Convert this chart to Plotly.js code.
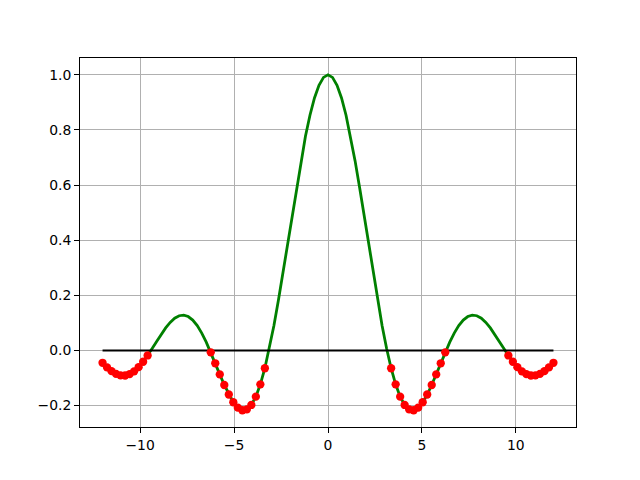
<!DOCTYPE html>
<html>
<head>
<meta charset="utf-8">
<script src="https://cdn.plot.ly/plotly-3.0.1.min.js"></script>
<style>html,body{margin:0;padding:0;background:#fff;}</style>
</head>
<body>
<div id="chart" style="width:640px;height:480px;"></div>
<script>
// Sample positions (non-negative half; the curve is symmetric about x = 0)
const xHalf = [0, 0.24, 0.48, 0.72, 0.96, 1.2, 1.44, 1.68, 1.92, 2.16, 2.4, 2.64, 2.88, 3.12, 3.36, 3.6, 3.84, 4.08, 4.32, 4.56, 4.8, 5.04, 5.28, 5.52, 5.76, 6.0, 6.24, 6.48, 6.72, 6.96, 7.2, 7.44, 7.68, 7.92, 8.16, 8.4, 8.64, 8.88, 9.12, 9.36, 9.6, 9.84, 10.08, 10.32, 10.56, 10.8, 11.04, 11.28, 11.52, 11.76, 12.0];
// Curve values read for each position above
const yHalf = [1.0, 0.99043, 0.96204, 0.91581, 0.85332, 0.7767, 0.68851, 0.59169, 0.4894, 0.3849, 0.28144, 0.18213, 0.0898, 0.00692, -0.06449, -0.12292, -0.16745, -0.1977, -0.21389, -0.21676, -0.20753, -0.18786, -0.15969, -0.12522, -0.08674, -0.04657, -0.00692, 0.03018, 0.06295, 0.08999, 0.11023, 0.12306, 0.12824, 0.12599, 0.11686, 0.10174, 0.08179, 0.05836, 0.0329, 0.00692, -0.01816, -0.041, -0.06045, -0.07562, -0.08586, -0.09083, -0.09049, -0.08509, -0.07514, -0.06138, -0.04471];
const baseX = [-12, 12];
const baseY = [0, 0];
const xTicks = [-10, -5, 0, 5, 10];
const yTicks = [-0.2, 0.0, 0.2, 0.4, 0.6, 0.8, 1.0];

// Build full symmetric series
const xs = [], ys = [];
for (let i = xHalf.length - 1; i >= 1; i--) { xs.push(-xHalf[i]); ys.push(yHalf[i]); }
for (let i = 0; i < xHalf.length; i++) { xs.push(xHalf[i]); ys.push(yHalf[i]); }
const negX = [], negY = [];
for (let i = 0; i < xs.length; i++) { if (ys[i] < 0) { negX.push(xs[i]); negY.push(ys[i]); } }

const fontFam = 'DejaVu Sans, sans-serif';
const traces = [
  {x: xs, y: ys, type: 'scatter', mode: 'lines', line: {color: '#008000', width: 2.8}, hoverinfo: 'none'},
  {x: baseX, y: baseY, type: 'scatter', mode: 'lines', line: {color: '#000000', width: 2.1}, hoverinfo: 'none'},
  {x: negX, y: negY, type: 'scatter', mode: 'markers', marker: {color: '#ff0000', size: 8.3, line: {width: 0}}, hoverinfo: 'none'}
];
const axisCommon = {
  showgrid: true, gridcolor: '#b0b0b0', gridwidth: 1,
  zeroline: false, showline: true, linecolor: '#000', linewidth: 1, mirror: true,
  ticks: 'outside', ticklen: 4.9, tickwidth: 1, tickcolor: '#000',
  tickfont: {family: fontFam, size: 13.9, color: '#000'}
};
const layout = {
  width: 640, height: 480,
  margin: {l: 80, r: 64, t: 58, b: 53, pad: 0},
  paper_bgcolor: '#fff', plot_bgcolor: '#fff',
  showlegend: false,
  xaxis: Object.assign({}, axisCommon, {range: [-13.2, 13.2], tickvals: xTicks, ticktext: xTicks.map(v => v < 0 ? '\u2212' + Math.abs(v) : String(v))}),
  yaxis: Object.assign({}, axisCommon, {range: [-0.2776, 1.0608], tickvals: yTicks, ticktext: yTicks.map(v => v < 0 ? '\u2212' + Math.abs(v).toFixed(1) : v.toFixed(1))})
};
Plotly.newPlot('chart', traces, layout, {staticPlot: true, displayModeBar: false});
</script>
</body>
</html>
